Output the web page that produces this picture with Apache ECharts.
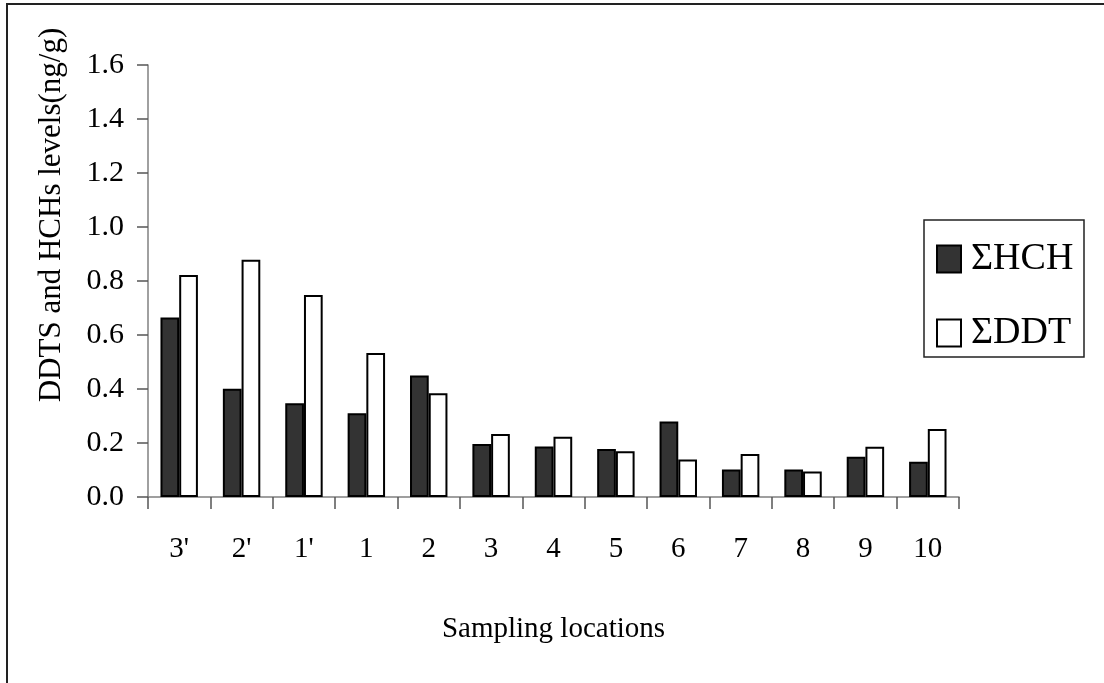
<!DOCTYPE html>
<html>
<head>
<meta charset="utf-8">
<script src="https://cdn.jsdelivr.net/npm/echarts@6/dist/echarts.min.js"></script>
<style>
html,body{margin:0;padding:0;background:#fff;}
#c{width:1104px;height:683px;}
</style>
</head>
<body>
<div id="c"></div>
<script>
const categories = ["3'", "2'", "1'", "1", "2", "3", "4", "5", "6", "7", "8", "9", "10"];
const hchValues = [0.665, 0.401, 0.347, 0.310, 0.450, 0.196, 0.187, 0.178, 0.280, 0.102, 0.102, 0.149, 0.131];
const ddtValues = [0.822, 0.879, 0.748, 0.533, 0.384, 0.233, 0.223, 0.169, 0.139, 0.159, 0.094, 0.186, 0.252];
const yTicks = [0.0, 0.2, 0.4, 0.6, 0.8, 1.0, 1.2, 1.4, 1.6];
const seriesNames = ["\u03A3HCH", "\u03A3DDT"];
const yTitle = "DDTS and HCHs levels(ng/g)";
const xTitle = "Sampling locations";

const FONT = "'Liberation Serif', 'Times New Roman', serif";
const chart = echarts.init(document.getElementById('c'), null, {renderer: 'canvas'});
chart.setOption({
  animation: false,
  backgroundColor: '#ffffff',
  grid: {left: 148, right: 145, top: 65, bottom: 186, containLabel: false},
  legend: {
    orient: 'vertical',
    left: 936,
    top: 240,
    padding: 0,
    itemWidth: 24,
    itemHeight: 27,
    itemGap: 36,
    icon: 'rect',
    textStyle: {fontFamily: FONT, fontSize: 38, color: '#000', lineHeight: 36, padding: [0, 0, 0, 5]},
    data: seriesNames
  },
  xAxis: {
    type: 'category',
    data: categories,
    boundaryGap: true,
    axisLine: {lineStyle: {color: '#808080', width: 1.5}},
    axisTick: {show: true, length: 12, inside: false, lineStyle: {color: '#555', width: 1.5}},
    axisLabel: {fontFamily: FONT, fontSize: 29, color: '#000', margin: 38},
    name: xTitle,
    nameLocation: 'middle',
    nameGap: 118,
    nameTextStyle: {fontFamily: FONT, fontSize: 29, color: '#000'}
  },
  yAxis: {
    type: 'value',
    min: yTicks[0],
    max: yTicks[yTicks.length - 1],
    interval: 0.2,
    axisLine: {show: true, lineStyle: {color: '#808080', width: 1.5}},
    axisTick: {show: true, length: 11, inside: false, lineStyle: {color: '#555', width: 1.5}},
    splitLine: {show: false},
    axisLabel: {fontFamily: FONT, fontSize: 30, color: '#000', margin: 24,
      formatter: v => v.toFixed(1)}
  },
  graphic: [
    {type: 'rect', shape: {x: 7, y: 4, width: 1200, height: 800}, style: {fill: 'none', stroke: '#222', lineWidth: 2}, z: -10},
    {type: 'rect', shape: {x: 924, y: 220, width: 160, height: 137}, style: {fill: '#fff', stroke: '#222', lineWidth: 1.5}, z: -5},
    {type: 'text', x: 52, y: 215, rotation: Math.PI / 2,
      style: {text: yTitle, fontFamily: FONT, fontSize: 31, fill: '#000', align: 'center', verticalAlign: 'middle'}}
  ],
  series: [
    {
      name: seriesNames[0], type: 'bar', data: hchValues,
      barGap: '0%', barCategoryGap: '40%',
      itemStyle: {color: '#333333', borderColor: '#000', borderWidth: 2}
    },
    {
      name: seriesNames[1], type: 'bar', data: ddtValues,
      barGap: '0%', barCategoryGap: '40%',
      itemStyle: {color: '#ffffff', borderColor: '#000', borderWidth: 2}
    }
  ]
});
</script>
</body>
</html>
